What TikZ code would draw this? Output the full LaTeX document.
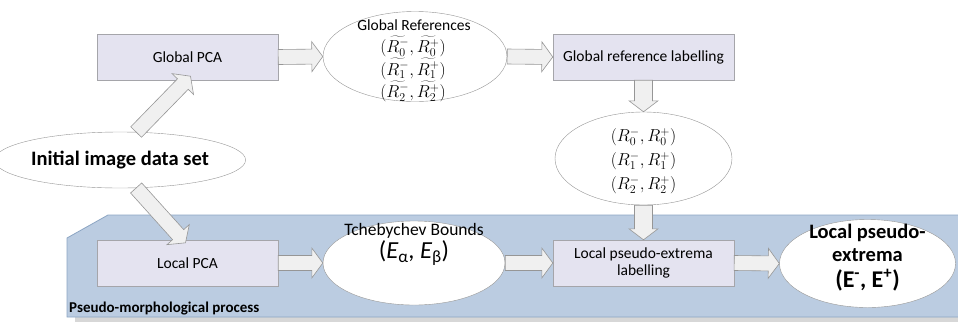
\documentclass[tikz,border=0pt]{standalone}
\usepackage{fontspec}
\setmainfont{Carlito}
\usetikzlibrary{calc,shapes.geometric}
\definecolor{boxfill}{RGB}{228,227,240}
\definecolor{boxline}{RGB}{165,165,170}
\definecolor{bluefill}{RGB}{187,204,225}
\definecolor{blueline}{RGB}{140,165,195}
\definecolor{ellline}{RGB}{150,150,150}
\definecolor{arrfill}{RGB}{240,240,240}
\definecolor{arrline}{RGB}{150,150,150}
\definecolor{shadowc}{RGB}{215,215,215}
\tikzset{
  procbox/.style={draw=boxline, fill=boxfill, minimum width=181pt, minimum height=46pt, inner sep=0pt, align=center, font=\fontsize{15.5}{17.5}\selectfont},
  oval/.style={ellipse, draw=ellline, fill=white, inner sep=0pt, align=center},
  barrowsty/.style={draw=arrline, fill=arrfill, line width=0.6pt, line join=miter},
  txt/.style={inner sep=0pt, align=center},
}
\newcommand\barrow[4]{%
  \coordinate (ba) at (#1);
  \coordinate (bb) at (#2);
  \coordinate (bh) at ($(bb)!11pt!(ba)$);
  \filldraw[barrowsty] ($(ba)!#3!90:(bb)$) -- ($(bh)!#3!-90:(ba)$) -- ($(bh)!#4!-90:(ba)$) -- (bb) -- ($(bh)!#4!90:(ba)$) -- ($(bh)!#3!90:(ba)$) -- ($(ba)!#3!-90:(bb)$) -- cycle;}
\begin{document}
\begin{tikzpicture}[x=1pt,y=-1pt]
\useasboundingbox (0,0) rectangle (958,322);
% pseudo-morphological region
\fill[shadowc] (75,317) rectangle (958,322);
\draw[blueline, fill=bluefill, line width=0.8pt] (67,238) -- (108,215) -- (959,215) -- (959,317) -- (67,317) -- cycle;
\node[anchor=base west, font=\bfseries\fontsize{15}{17}\selectfont, inner sep=0pt] (pmlabel) at (69,312) {Pseudo-morphological process};
% nodes
\node[procbox] (gpca) at (187.5,57) {Global PCA};
\node[oval, minimum width=184pt, minimum height=90pt] (gref) at (415,56.5) {};
\node[txt, font=\fontsize{15.5}{18}\selectfont] (greft) at (414,25.5) {Global References};
\node[txt, font=\fontsize{17}{22.5}\selectfont] (grefm) at (413,69) {$(\widetilde{R_0^-},\widetilde{R_0^+})$\\$(\widetilde{R_1^-},\widetilde{R_1^+})$\\$(\widetilde{R_2^-},\widetilde{R_2^+})$};
\node[procbox] (grl) at (643.5,57) {Global reference labelling};
\node[oval, minimum width=177pt, minimum height=93pt] (rref) at (643.5,158.5) {};
\node[txt, font=\fontsize{18}{24}\selectfont] (rrefm) at (643.5,161) {$(R_0^-,R_0^+)$\\$(R_1^-,R_1^+)$\\$(R_2^-,R_2^+)$};
\node[oval, minimum width=222pt, minimum height=56pt, font=\bfseries\fontsize{20.5}{24}\selectfont] (init) at (120,160) {Initial image data set};
\node[procbox] (lpca) at (187.5,263) {Local PCA};
\node[oval, minimum width=182pt, minimum height=84pt] (tcheb) at (414,263) {};
\node[txt, font=\fontsize{17.5}{19}\selectfont] (tchebt) at (414,231) {Tchebychev Bounds};
\node[txt, font=\fontsize{24.5}{26}\selectfont] (tchebm) at (414,253) {({\itshape E}\textsubscript{α}, {\itshape E}\textsubscript{β})};
\node[procbox] (lpel) at (643.5,263) {Local pseudo-extrema\\labelling};
\node[oval, minimum width=176pt, minimum height=88pt] (lpe) at (867.5,263.5) {};
\node[txt, font=\bfseries\fontsize{20.5}{23}\selectfont] (lpet) at (867.5,243) {Local pseudo-\\extrema};
\node[txt, font=\bfseries\fontsize{24}{26}\selectfont] (lpem) at (867.5,280) {(E\textsuperscript{-}, E\textsuperscript{+})};
% arrows
\coordinate (t1) at ($(gpca.south)+(3,-4)$);
\coordinate (t2) at ($(lpca.north)+(-2,3)$);
\barrow{init.60}{t1}{7.5pt}{15pt}
\barrow{init.-60}{t2}{7.5pt}{15pt}
\barrow{gpca.east}{gref.west}{7.5pt}{15pt}
\barrow{gref.east}{grl.west}{7.5pt}{15pt}
\barrow{grl.south}{rref.north}{9pt}{14.5pt}
\barrow{rref.south}{lpel.north}{9pt}{14.5pt}
\barrow{lpca.east}{tcheb.west}{7.5pt}{15pt}
\barrow{tcheb.east}{lpel.west}{7.5pt}{15pt}
\barrow{lpel.east}{lpe.west}{7.5pt}{15pt}
\end{tikzpicture}
\end{document}
